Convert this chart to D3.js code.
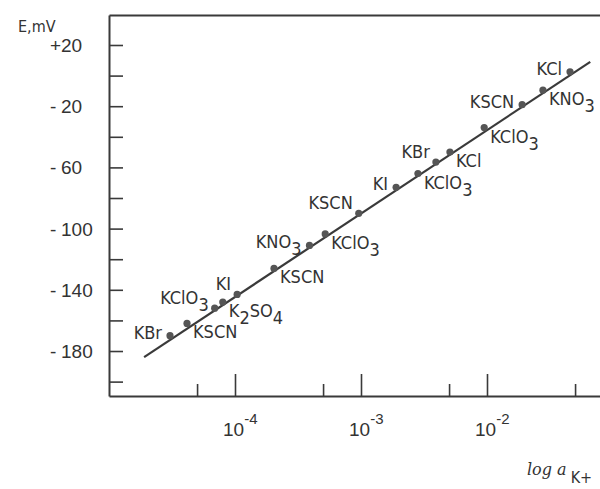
<!DOCTYPE html>
<html>
<head>
<meta charset="utf-8">
<script src="https://cdn.jsdelivr.net/npm/d3@7"></script>
<style>
  body { margin: 0; background: #fff; }
  text { fill: #333; }
</style>
</head>
<body>
<div id="chart"></div>
<script>
// Data
const salts = ["KBr", "KSCN", "KClO_3", "K_2SO_4", "KI", "KSCN", "KNO_3", "KClO_3", "KSCN",
    "KI", "KClO_3", "KBr", "KCl", "KClO_3", "KSCN", "KNO_3", "KCl"];
const activity = [3.05e-5, 4.16e-5, 6.9e-5, 8.0e-5, 1.04e-4, 2.04e-4, 3.9e-4, 5.2e-4, 9.6e-4,
    1.9e-3, 2.83e-3, 3.93e-3, 5.08e-3, 9.5e-3, 1.9e-2, 2.78e-2, 4.56e-2];
const potential = [-170, -162, -152, -148, -143, -126, -111, -103.5, -90,
    -73, -64, -56.5, -50, -34, -19, -9.5, 2.5];

// fitted line end points
const fitActivity = [1.9e-5, 6.6e-2];
const fitPotential = [-184, 9];

// ticks
const yTickValues = [20, 0, -20, -40, -60, -80, -100, -120, -140, -160, -180, -200];
const yLabelValues = [20, -20, -60, -100, -140, -180];
const xMajorTicks = [1e-4, 1e-3, 1e-2];
const xMinorTicks = [5e-5, 5e-4, 5e-3, 5e-2];
const xTickExponents = ["-4", "-3", "-2"];

// label placement: L = left, UL = upper left, R = lower right
const labelSide = ["L", "R", "UL", "R", "UL", "R", "L", "R", "UL", "L", "R", "UL", "R", "R", "L", "R", "L"];
const sideOffset = { L: [-8, 3, "end"], UL: [-6, -4, "end"], R: [6, 15, "start"] };

const W = 600, H = 489;
const svg = d3.select("#chart").append("svg")
    .attr("width", W)
    .attr("height", H);

const x = d3.scaleLog().domain([1e-5, 1e-1]).range([109, 613]);
const y = d3.scaleLinear().domain([39.6, -209.4]).range([15, 396]);

const ink = "#3a3a3a";
const labelFont = "'Liberation Sans Narrow', 'DejaVu Sans Condensed', sans-serif";
const numFont = "'Liberation Sans', Arial, sans-serif";

// Left axis, ticks pointing inward
svg.append("g")
    .attr("transform", `translate(${x(1e-5)},0)`)
    .call(d3.axisLeft(y).tickValues(yTickValues).tickSize(-14).tickSizeOuter(0).tickFormat(""));

// Bottom axis: long ticks at decades, short ones at 5x
svg.append("g")
    .attr("transform", `translate(0,${y.range()[1]})`)
    .call(d3.axisBottom(x).tickValues(xMajorTicks).tickSize(-22).tickSizeOuter(0).tickFormat(""));
const gxMinor = svg.append("g")
    .attr("transform", `translate(0,${y.range()[1]})`)
    .call(d3.axisBottom(x).tickValues(xMinorTicks).tickSize(-12).tickSizeOuter(0).tickFormat(""));
gxMinor.select(".domain").remove();

// Top frame line
svg.append("g")
    .attr("transform", `translate(0,${y.range()[0]})`)
    .call(d3.axisTop(x).tickValues([]).tickSizeOuter(0));

svg.selectAll(".domain").attr("stroke", ink).attr("stroke-width", 2);
svg.selectAll(".tick line").attr("stroke", ink).attr("stroke-width", 1.6);

// Y tick labels: sign and digits set apart
const yl = svg.append("g").selectAll("g")
    .data(yLabelValues)
    .join("g")
    .attr("transform", d => `translate(0,${y(d) + 7})`)
    .style("font-family", numFont)
    .style("font-size", "19px");
yl.append("text").attr("x", 50).text(d => d > 0 ? "+" : "-");
yl.append("text").attr("x", 61).text(d => Math.abs(d));

// X tick labels 10^n
const xl = svg.append("g").selectAll("text")
    .data(xMajorTicks)
    .join("text")
    .attr("x", d => x(d) - 12)
    .attr("y", 436)
    .style("font-family", numFont)
    .style("font-size", "19px");
xl.append("tspan").text("10");
xl.append("tspan")
    .attr("dy", -12)
    .style("font-size", "15px")
    .text((d, i) => xTickExponents[i]);

// Axis titles
svg.append("text")
    .attr("x", 18).attr("y", 32)
    .style("font-family", labelFont)
    .style("font-size", "16px")
    .text("E,mV");

const xt = svg.append("text")
    .attr("x", 527).attr("y", 475)
    .style("font-family", "'DejaVu Serif', serif")
    .style("font-style", "italic")
    .style("font-size", "16px");
xt.append("tspan").text("log a");
xt.append("tspan").attr("dy", 8).attr("dx", 4)
    .style("font-family", labelFont).style("font-style", "normal")
    .text("K+");

// Fitted line
svg.append("path")
    .datum(d3.zip(fitActivity, fitPotential))
    .attr("fill", "none")
    .attr("stroke", ink)
    .attr("stroke-width", 2.2)
    .attr("d", d3.line().x(d => x(d[0])).y(d => y(d[1])));

// Points
const pts = d3.zip(activity, potential, salts, labelSide);
svg.append("g").selectAll("circle")
    .data(pts)
    .join("circle")
    .attr("cx", d => x(d[0]))
    .attr("cy", d => y(d[1]))
    .attr("r", 3.6)
    .attr("fill", "#555");

// Salt labels with subscripts
const labels = svg.append("g").selectAll("text")
    .data(pts)
    .join("text")
    .attr("x", d => x(d[0]) + sideOffset[d[3]][0])
    .attr("y", d => y(d[1]) + sideOffset[d[3]][1])
    .attr("text-anchor", d => sideOffset[d[3]][2])
    .style("font-family", labelFont)
    .style("font-size", "18px");

labels.each(function (d) {
    const t = d3.select(this);
    const parts = d[2].split(/(_\d)/).filter(s => s.length);
    let lowered = false;
    parts.forEach(p => {
        if (p.startsWith("_")) {
            t.append("tspan").attr("dy", 7).text(p.slice(1));
            lowered = true;
        } else {
            t.append("tspan").attr("dy", lowered ? -7 : 0).text(p);
            lowered = false;
        }
    });
});
</script>
</body>
</html>
